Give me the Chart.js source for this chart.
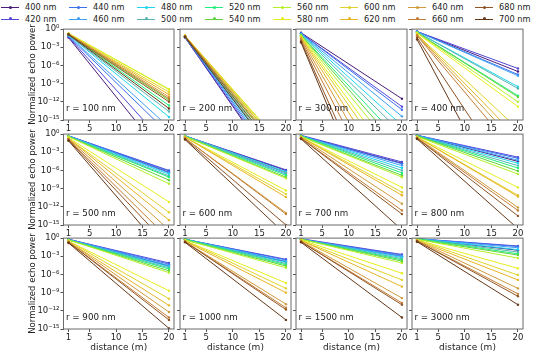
<!DOCTYPE html>
<html>
<head>
<meta charset="utf-8">
<script src="https://cdn.jsdelivr.net/npm/chart.js@4.4.1/dist/chart.umd.min.js"></script>
<style>
  body { margin: 0; background: #fff; font-family: "DejaVu Sans", sans-serif; }
  #wrap { position: relative; width: 550px; height: 356px; overflow: hidden; }
  canvas { position: absolute; }
  .leg { position: absolute; height: 10px; font-size: 8.2px; color: #222; white-space: nowrap; }
  .leg .ln { position: absolute; left: 0; top: 5px; width: 18px; height: 0; border-top: 1.2px solid; }
  .leg .dot { position: absolute; left: 7.5px; top: 3.5px; width: 3px; height: 3px; border-radius: 50%; }
  .leg .tx { position: absolute; left: 24px; top: 0; line-height: 10px; }
</style>
</head>
<body>
<div id="wrap"></div>
<script>
// wavelengths (legend), one line per wavelength in every panel
var wavelengths = ['400 nm', '420 nm', '440 nm', '460 nm', '480 nm', '500 nm', '520 nm', '540 nm',
                   '560 nm', '580 nm', '600 nm', '620 nm', '640 nm', '660 nm', '680 nm', '700 nm'];
var colors = ['#4b1c7a', '#5046d8', '#3c6ff0', '#3fa0f5', '#1ed6f0', '#58b4b0', '#1ef07a', '#5fd23c',
              '#b4f02a', '#e6ee1e', '#e0d228', '#e8b424', '#d09a3c', '#c47c34', '#8f5426', '#653818'];
var radii = ['r = 100 nm', 'r = 200 nm', 'r = 300 nm', 'r = 400 nm', 'r = 500 nm', 'r = 600 nm',
             'r = 700 nm', 'r = 800 nm', 'r = 900 nm', 'r = 1000 nm', 'r = 1500 nm', 'r = 3000 nm'];
var distances = [1, 20];
var xTicks = [1, 5, 10, 15, 20];
var yTickExps = [-15, -12, -9, -6, -3, 0];

// log10 of the normalized echo power at distance 1 m, per panel (rows) and wavelength (columns)
var logPowerAt1 = [
    [-1.4, -1.3, -1.2, -1.1, -1.0, -1.0, -0.9, -0.9, -0.7, -0.7, -0.8, -0.8, -0.8, -0.8, -0.9, -0.9],
    [-1.4, -1.4, -1.3, -1.3, -1.3, -1.3, -1.2, -1.2, -1.1, -1.1, -1.1, -1.1, -1.2, -1.2, -1.2, -1.3],
    [-0.6, -0.7, -0.7, -0.8, -0.8, -0.9, -1.0, -1.0, -1.1, -1.2, -1.3, -1.4, -1.6, -1.8, -2.0, -2.2],
    [-0.4, -0.4, -0.4, -0.4, -0.5, -0.5, -0.6, -0.6, -0.6, -0.7, -0.9, -0.9, -1.0, -1.1, -1.4, -1.7],
    [-0.3, -0.3, -0.3, -0.3, -0.4, -0.4, -0.4, -0.4, -0.4, -0.6, -0.7, -0.7, -0.8, -0.9, -1.0, -1.1],
    [-0.3, -0.3, -0.3, -0.3, -0.3, -0.3, -0.4, -0.4, -0.4, -0.5, -0.5, -0.5, -0.7, -0.7, -0.8, -0.9],
    [-0.3, -0.2, -0.3, -0.3, -0.3, -0.3, -0.3, -0.4, -0.4, -0.5, -0.5, -0.5, -0.6, -0.7, -0.7, -0.8],
    [-0.2, -0.2, -0.2, -0.2, -0.3, -0.3, -0.3, -0.3, -0.4, -0.5, -0.5, -0.5, -0.6, -0.7, -0.7, -0.8],
    [-0.2, -0.2, -0.2, -0.2, -0.3, -0.3, -0.3, -0.3, -0.3, -0.5, -0.5, -0.6, -0.6, -0.7, -0.7, -0.8],
    [-0.2, -0.2, -0.2, -0.2, -0.2, -0.2, -0.2, -0.3, -0.3, -0.4, -0.4, -0.5, -0.6, -0.6, -0.6, -0.7],
    [-0.2, -0.1, -0.2, -0.2, -0.2, -0.2, -0.2, -0.2, -0.2, -0.3, -0.4, -0.4, -0.5, -0.6, -0.6, -0.7],
    [-0.1, -0.1, -0.1, -0.1, -0.1, -0.1, -0.1, -0.2, -0.2, -0.3, -0.3, -0.4, -0.4, -0.5, -0.5, -0.6]
];
// log10 of the normalized echo power at distance 20 m (lines below 1e-15 leave the axes)
var logPowerAt20 = [
    [-22.0, -19.7, -17.3, -16.2, -14.5, -13.6, -12.6, -11.7, -9.9, -10.0, -10.4, -10.8, -11.2, -11.5, -12.0, -13.1],
    [-25.4, -25.0, -24.4, -23.8, -23.2, -22.6, -22.0, -21.3, -20.4, -19.8, -20.0, -20.6, -21.0, -21.5, -22.2, -23.0],
    [-11.5, -12.8, -13.3, -14.4, -15.9, -17.2, -18.7, -20.0, -21.5, -23.5, -25.2, -27.6, -30.6, -34.3, -39.0, -42.0],
    [-7.0, -6.5, -7.5, -7.7, -9.5, -9.8, -11.0, -11.2, -12.0, -12.8, -16.5, -18.0, -19.2, -20.8, -26.5, -32.9],
    [-6.3, -6.0, -6.1, -6.4, -6.6, -6.9, -7.1, -7.6, -8.2, -11.2, -12.9, -14.2, -15.8, -17.3, -18.5, -20.3],
    [-6.0, -5.9, -6.3, -6.6, -6.2, -6.4, -6.8, -7.1, -7.3, -9.3, -9.9, -10.4, -13.0, -13.2, -15.0, -16.6],
    [-4.8, -4.6, -4.9, -5.2, -5.6, -6.0, -6.4, -6.8, -7.1, -8.8, -9.6, -10.1, -11.5, -12.6, -13.2, -15.8],
    [-4.5, -3.8, -4.0, -4.3, -4.8, -5.2, -5.6, -6.1, -6.6, -8.8, -10.1, -10.3, -12.1, -12.6, -13.5, -15.6],
    [-4.6, -4.1, -4.3, -4.5, -4.7, -4.9, -5.1, -5.4, -5.7, -8.7, -10.0, -11.1, -12.2, -13.1, -13.5, -14.9],
    [-3.9, -3.5, -3.6, -3.8, -4.0, -4.2, -4.4, -4.6, -4.9, -7.4, -8.3, -9.0, -10.9, -11.5, -11.8, -13.5],
    [-3.0, -2.7, -2.8, -3.0, -3.2, -3.4, -3.6, -3.8, -4.1, -5.8, -6.9, -8.0, -9.9, -10.7, -11.0, -13.1],
    [-2.0, -1.3, -1.4, -1.6, -1.9, -2.3, -2.6, -2.8, -3.3, -5.0, -6.1, -6.9, -8.3, -9.2, -9.6, -11.0]
];

var wrap = document.getElementById('wrap');
var FONT = '"DejaVu Sans", sans-serif';

// legend, two rows of eight
var legX = [1, 69, 137, 205, 273, 340, 408, 475];
var legY = [2, 13.5];
wavelengths.forEach(function (w, j) {
    var d = document.createElement('div');
    d.className = 'leg';
    d.style.left = legX[Math.floor(j / 2)] + 'px';
    d.style.top = legY[j % 2] + 'px';
    d.innerHTML = '<div class="ln" style="border-color:' + colors[j] + '"></div>' +
        '<div class="dot" style="background:' + colors[j] + '"></div>' +
        '<div class="tx">' + w + '</div>';
    wrap.appendChild(d);
});

var supMap = { '-': '\u207B', '0': '\u2070', '1': '\u00B9', '2': '\u00B2', '3': '\u00B3', '4': '\u2074',
               '5': '\u2075', '6': '\u2076', '7': '\u2077', '8': '\u2078', '9': '\u2079' };
function powLabel(e) {
    return '10' + String(e).split('').map(function (c) { return supMap[c]; }).join('');
}

var colLeft = [63.5, 179.5, 295.5, 412];
var rowTop = [29, 133.5, 238];
var plotW = 111, plotH = 91;

var framePlugin = {
    id: 'frame',
    afterDatasetsDraw: function (chart, args, opts) {
        var a = chart.chartArea, ctx = chart.ctx;
        ctx.save();
        ctx.font = '8.7px ' + FONT;
        ctx.fillStyle = '#222';
        ctx.textBaseline = 'middle';
        ctx.fillText(opts.label, a.left + 2.5, a.bottom - 11);
        ctx.strokeStyle = '#6a6a6a';
        ctx.lineWidth = 1;
        ctx.strokeRect(a.left, a.top, a.right - a.left, a.bottom - a.top);
        ctx.restore();
    }
};

radii.forEach(function (r, i) {
    var col = i % 4, row = Math.floor(i / 4);
    var padL = col === 0 ? colLeft[0] : 4;
    var padT = 6, padR = 8, padB = row === 2 ? 26 : 14;
    var cv = document.createElement('canvas');
    cv.width = padL + plotW + padR;
    cv.height = padT + plotH + padB;
    cv.style.left = (colLeft[col] - padL) + 'px';
    cv.style.top = (rowTop[row] - padT) + 'px';
    wrap.appendChild(cv);

    var datasets = wavelengths.map(function (w, j) {
        return {
            label: w,
            data: [
                { x: distances[0], y: Math.pow(10, logPowerAt1[i][j]) },
                { x: distances[1], y: Math.pow(10, logPowerAt20[i][j]) }
            ],
            borderColor: colors[j],
            backgroundColor: colors[j],
            borderWidth: 1,
            pointRadius: 1.2,
            pointBorderWidth: 0,
            order: wavelengths.length - j
        };
    });

    new Chart(cv, {
        type: 'line',
        data: { datasets: datasets },
        plugins: [framePlugin],
        options: {
            responsive: false,
            animation: false,
            devicePixelRatio: 1,
            layout: { padding: { top: padT, right: padR, left: 0, bottom: 0 } },
            plugins: { legend: { display: false }, tooltip: { enabled: false }, frame: { label: r } },
            scales: {
                x: {
                    type: 'linear',
                    min: 0.05,
                    max: 20.95,
                    afterBuildTicks: function (s) { s.ticks = xTicks.map(function (v) { return { value: v }; }); },
                    afterFit: function (s) { s.height = padB; },
                    grid: { drawOnChartArea: false, tickLength: 3, color: '#555' },
                    border: { display: false },
                    ticks: { font: { family: FONT, size: 8.5 }, color: '#222', padding: 1, maxRotation: 0 },
                    title: {
                        display: row === 2,
                        text: 'distance (m)',
                        font: { family: FONT, size: 9 },
                        color: '#222',
                        padding: { top: 0, bottom: 1.5 }
                    }
                },
                y: {
                    type: 'logarithmic',
                    min: 1e-15,
                    max: 1,
                    afterBuildTicks: function (s) { s.ticks = yTickExps.map(function (e) { return { value: Math.pow(10, e) }; }); },
                    afterFit: function (s) { s.width = padL; },
                    grid: { drawOnChartArea: false, tickLength: 3, color: '#555' },
                    border: { display: false },
                    ticks: {
                        font: { family: FONT, size: 8.5 },
                        color: '#222',
                        padding: 1,
                        callback: function (v) {
                            if (col !== 0) return '';
                            return powLabel(Math.round(Math.log10(v)));
                        }
                    },
                    title: {
                        display: col === 0,
                        text: 'Normalized echo power',
                        font: { family: FONT, size: 8.5 },
                        color: '#222',
                        padding: { top: 28, bottom: 0 }
                    }
                }
            }
        }
    });
});
</script>
</body>
</html>
